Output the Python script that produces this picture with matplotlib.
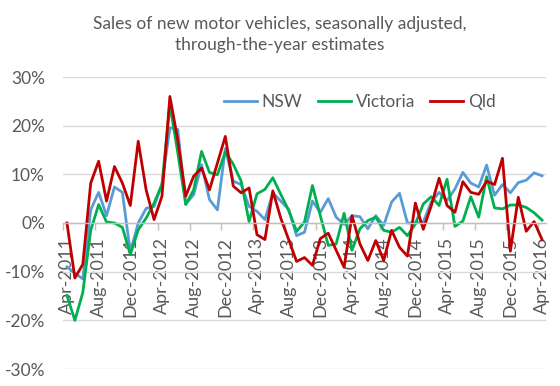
import numpy as np
import matplotlib
matplotlib.use("Agg")
from matplotlib import pyplot as plt
from matplotlib.ticker import FixedLocator

#---------------------------------------------------------------------------------------
# Data (through-the-year % change, monthly, Apr-2011 .. Apr-2016)
#---------------------------------------------------------------------------------------

tick_labels = ["Apr-2011", "Aug-2011", "Dec-2011", "Apr-2012", "Aug-2012", "Dec-2012",
               "Apr-2013", "Aug-2013", "Dec-2013", "Apr-2014", "Aug-2014", "Dec-2014",
               "Apr-2015", "Aug-2015", "Dec-2015", "Apr-2016"]

nsw = [-9.0, -10.3, -11.5, 2.7, 6.3, 1.5, 7.4, 6.3, -6.0, 0.0,
       3.0, 3.4, 8.0, 19.6, 19.2, 3.9, 5.8, 12.0, 4.8, 2.7,
       15.3, 8.6, 7.9, 3.4, 2.4, 0.7, 6.2, 4.5, 2.8, -2.6,
       -1.9, 4.5, 2.2, 5.0, 1.2, -0.3, 1.5, 1.3, -1.2, 1.5,
       -0.5, 4.3, 6.1, 0.0, 0.0, 0.2, 4.3, 6.3, 4.6, 7.0,
       10.4, 8.2, 7.4, 11.9, 5.7, 7.9, 6.2, 8.3, 8.8, 10.3,
       9.7]

vic = [-14.9, -20.0, -14.3, -1.5, 3.8, 0.2, 0.0, -0.9, -6.5, -1.4,
       1.0, 4.1, 7.9, 24.3, 14.4, 3.8, 6.8, 14.7, 10.4, 9.9,
       14.6, 12.1, 8.6, 0.3, 6.0, 6.9, 9.3, 5.9, 2.6, -1.7,
       0.2, 7.7, 1.5, -4.6, -4.3, 2.0, -5.6, -1.2, 0.5, 1.2,
       -1.5, -1.9, -0.9, -2.6, -0.2, 3.9, 5.4, 3.6, 9.0, -0.7,
       0.4, 5.4, 1.2, 9.5, 3.1, 2.9, 3.7, 3.7, 3.2, 2.1,
       0.6]

qld = [0.0, -11.3, -8.5, 8.2, 12.7, 4.5, 11.6, 8.2, 3.6, 16.8,
       6.8, 0.7, 5.5, 26.0, 17.0, 5.5, 9.6, 11.3, 6.8, 12.3,
       17.8, 7.6, 6.2, 7.2, -2.4, -3.4, 6.6, 1.0, -3.4, -7.9,
       -7.1, -8.7, -3.2, -2.1, -5.6, -9.1, 1.5, -4.3, -7.7, -3.6,
       -7.7, -1.5, -5.0, -6.8, 4.1, -1.3, 3.5, 9.2, 3.6, 2.2,
       8.5, 6.3, 5.9, 8.6, 7.9, 13.3, -5.8, 5.3, -1.7, 0.3,
       -3.4]

#---------------------------------------------------------------------------------------
# Plot
#---------------------------------------------------------------------------------------

plt.rcParams['font.family'] = ['Lato', 'DejaVu Sans']
grey = "#595959"

x = np.arange(len(nsw))

fig = plt.figure(figsize=(5.6, 3.86), dpi=100)
ax = fig.add_axes([63/560, 1-369/386, (546-63)/560, (369-77)/386])

ax.plot(x, nsw, color="#5B9BD5", lw=2.0, label="NSW")
ax.plot(x, vic, color="#00B050", lw=2.0, label="Victoria")
ax.plot(x, qld, color="#C00000", lw=2.0, label="Qld")

ax.set_xlim(-0.5, len(nsw) - 0.5)
ax.set_ylim(-30, 30)
ax.set_yticks(np.arange(-30, 31, 10))
ax.set_yticklabels(["%d%%" % v for v in np.arange(-30, 31, 10)])
ax.grid(axis="y", color="#D9D9D9", lw=1.0)
ax.set_axisbelow(True)

for s in ["top", "right", "left"]:
    ax.spines[s].set_visible(False)
ax.spines["bottom"].set_position(("data", 0))
ax.spines["bottom"].set_color("#BFBFBF")
ax.spines["bottom"].set_linewidth(1.0)

ax.set_xticks(np.arange(0, len(nsw), 4))
ax.set_xticklabels(tick_labels, rotation=90)
ax.xaxis.set_minor_locator(FixedLocator(np.arange(-0.5, len(nsw), 4)))
ax.tick_params(axis="x", which="major", length=0, pad=10, labelsize=13, colors=grey)
ax.tick_params(axis="x", which="minor", length=5, color="#BFBFBF", width=1.0)
ax.tick_params(axis="y", length=0, pad=13, labelsize=12.5, colors=grey)

fig.suptitle("Sales of new motor vehicles, seasonally adjusted,\nthrough-the-year estimates",
             y=1-16/386, va="top", fontsize=12.5, color=grey, linespacing=1.35)

fig.legend(loc="center", bbox_to_anchor=(360/560, 1-102/386), ncol=3, frameon=False,
           fontsize=12.5, labelcolor=grey, handlelength=1.9, columnspacing=0.9,
           handletextpad=0.25)

fig.savefig("out.png", dpi=100)
